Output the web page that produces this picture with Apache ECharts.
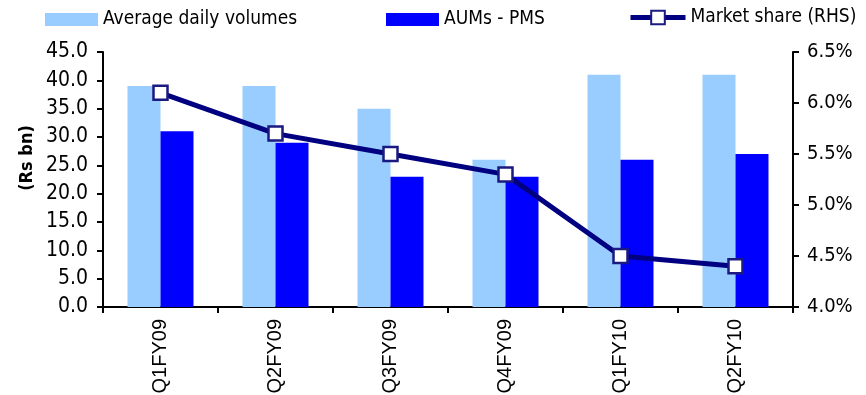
<!DOCTYPE html>
<html>
<head>
<meta charset="utf-8">
<script src="https://cdn.jsdelivr.net/npm/echarts@6/dist/echarts.min.js"></script>
<style>
  html, body { margin: 0; padding: 0; background: #fff; }
  #chart { width: 866px; height: 395px; }
</style>
</head>
<body>
<div id="chart"></div>
<script>
// Quarterly categories
const quarters = ['Q1FY09', 'Q2FY09', 'Q3FY09', 'Q4FY09', 'Q1FY10', 'Q2FY10'];
// Rs bn, left axis
const avgDailyVolumes = [39, 39, 35, 26, 41, 41];
const aumsPms = [31, 29, 23, 23, 26, 27];
// Percent, right axis
const marketShare = [6.1, 5.7, 5.5, 5.3, 4.5, 4.4];
// Axis tick settings
const leftTicks = { min: 0, max: 45, interval: 5 };
const rightTicks = { min: 4.0, max: 6.5, interval: 0.5 };

const FONT = '"DejaVu Sans Condensed", "DejaVu Sans", sans-serif';
const chart = echarts.init(document.getElementById('chart'), null, { renderer: 'canvas' });

const legendText = { fontFamily: FONT, fontSize: 19, color: '#000' };

chart.setOption({
  animation: false,
  grid: { left: 103, right: 73, top: 52, bottom: 88, containLabel: false, outerBoundsMode: 'none' },
  legend: [
    { data: ['Average daily volumes'], icon: 'rect', left: 45, top: 10, itemWidth: 53, itemHeight: 13, textStyle: legendText, padding: 0 },
    { data: ['AUMs - PMS'], icon: 'rect', left: 386, top: 10, itemWidth: 53, itemHeight: 13, textStyle: legendText, padding: 0 },
    { data: ['Market share (RHS)'], left: 628, top: 8, itemWidth: 55, itemHeight: 17, textStyle: legendText, padding: 0,
      lineStyle: { width: 5, color: '#000080' } }
  ],
  graphic: [
    {
      type: 'text',
      x: 27, y: 158,
      rotation: Math.PI / 2,
      style: {
        text: '(Rs bn)',
        font: 'bold 18px "DejaVu Sans Condensed", "DejaVu Sans", sans-serif',
        fill: '#000',
        textAlign: 'center',
        textVerticalAlign: 'middle'
      }
    }
  ],
  xAxis: {
    type: 'category',
    data: quarters,
    axisLine: { lineStyle: { color: '#000', width: 2 } },
    axisTick: { show: true, alignWithLabel: false, length: 6, lineStyle: { color: '#000', width: 2 } },
    axisLabel: { rotate: 90, fontFamily: 'Liberation Sans', fontSize: 20, color: '#000', margin: 12 }
  },
  yAxis: [
    {
      type: 'value',
      min: leftTicks.min, max: leftTicks.max, interval: leftTicks.interval,
      axisLine: { show: true, lineStyle: { color: '#000', width: 2 } },
      axisTick: { show: true, length: 6, lineStyle: { color: '#000', width: 2 } },
      splitLine: { show: false },
      axisLabel: { fontFamily: FONT, fontSize: 21, color: '#000', margin: 15, formatter: v => v.toFixed(1) }
    },
    {
      type: 'value',
      position: 'right',
      min: rightTicks.min, max: rightTicks.max, interval: rightTicks.interval,
      axisLine: { show: true, lineStyle: { color: '#000', width: 2 } },
      axisTick: { show: true, length: 6, lineStyle: { color: '#000', width: 2 } },
      splitLine: { show: false },
      axisLabel: { fontFamily: FONT, fontSize: 20, color: '#000', margin: 14, formatter: v => v.toFixed(1) + '%' }
    }
  ],
  series: [
    {
      name: 'Average daily volumes', type: 'bar', data: avgDailyVolumes,
      barWidth: 33, barGap: '0%',
      itemStyle: { color: '#99CCFF' }
    },
    {
      name: 'AUMs - PMS', type: 'bar', data: aumsPms,
      barWidth: 33, barGap: '0%',
      itemStyle: { color: '#0000FF' }
    },
    {
      name: 'Market share (RHS)', type: 'line', yAxisIndex: 1, data: marketShare,
      symbol: 'rect', symbolSize: 14,
      lineStyle: { color: '#000080', width: 5 },
      itemStyle: { color: '#fff', borderColor: '#1a1a80', borderWidth: 2.5 },
      z: 5
    }
  ]
});
</script>
</body>
</html>
